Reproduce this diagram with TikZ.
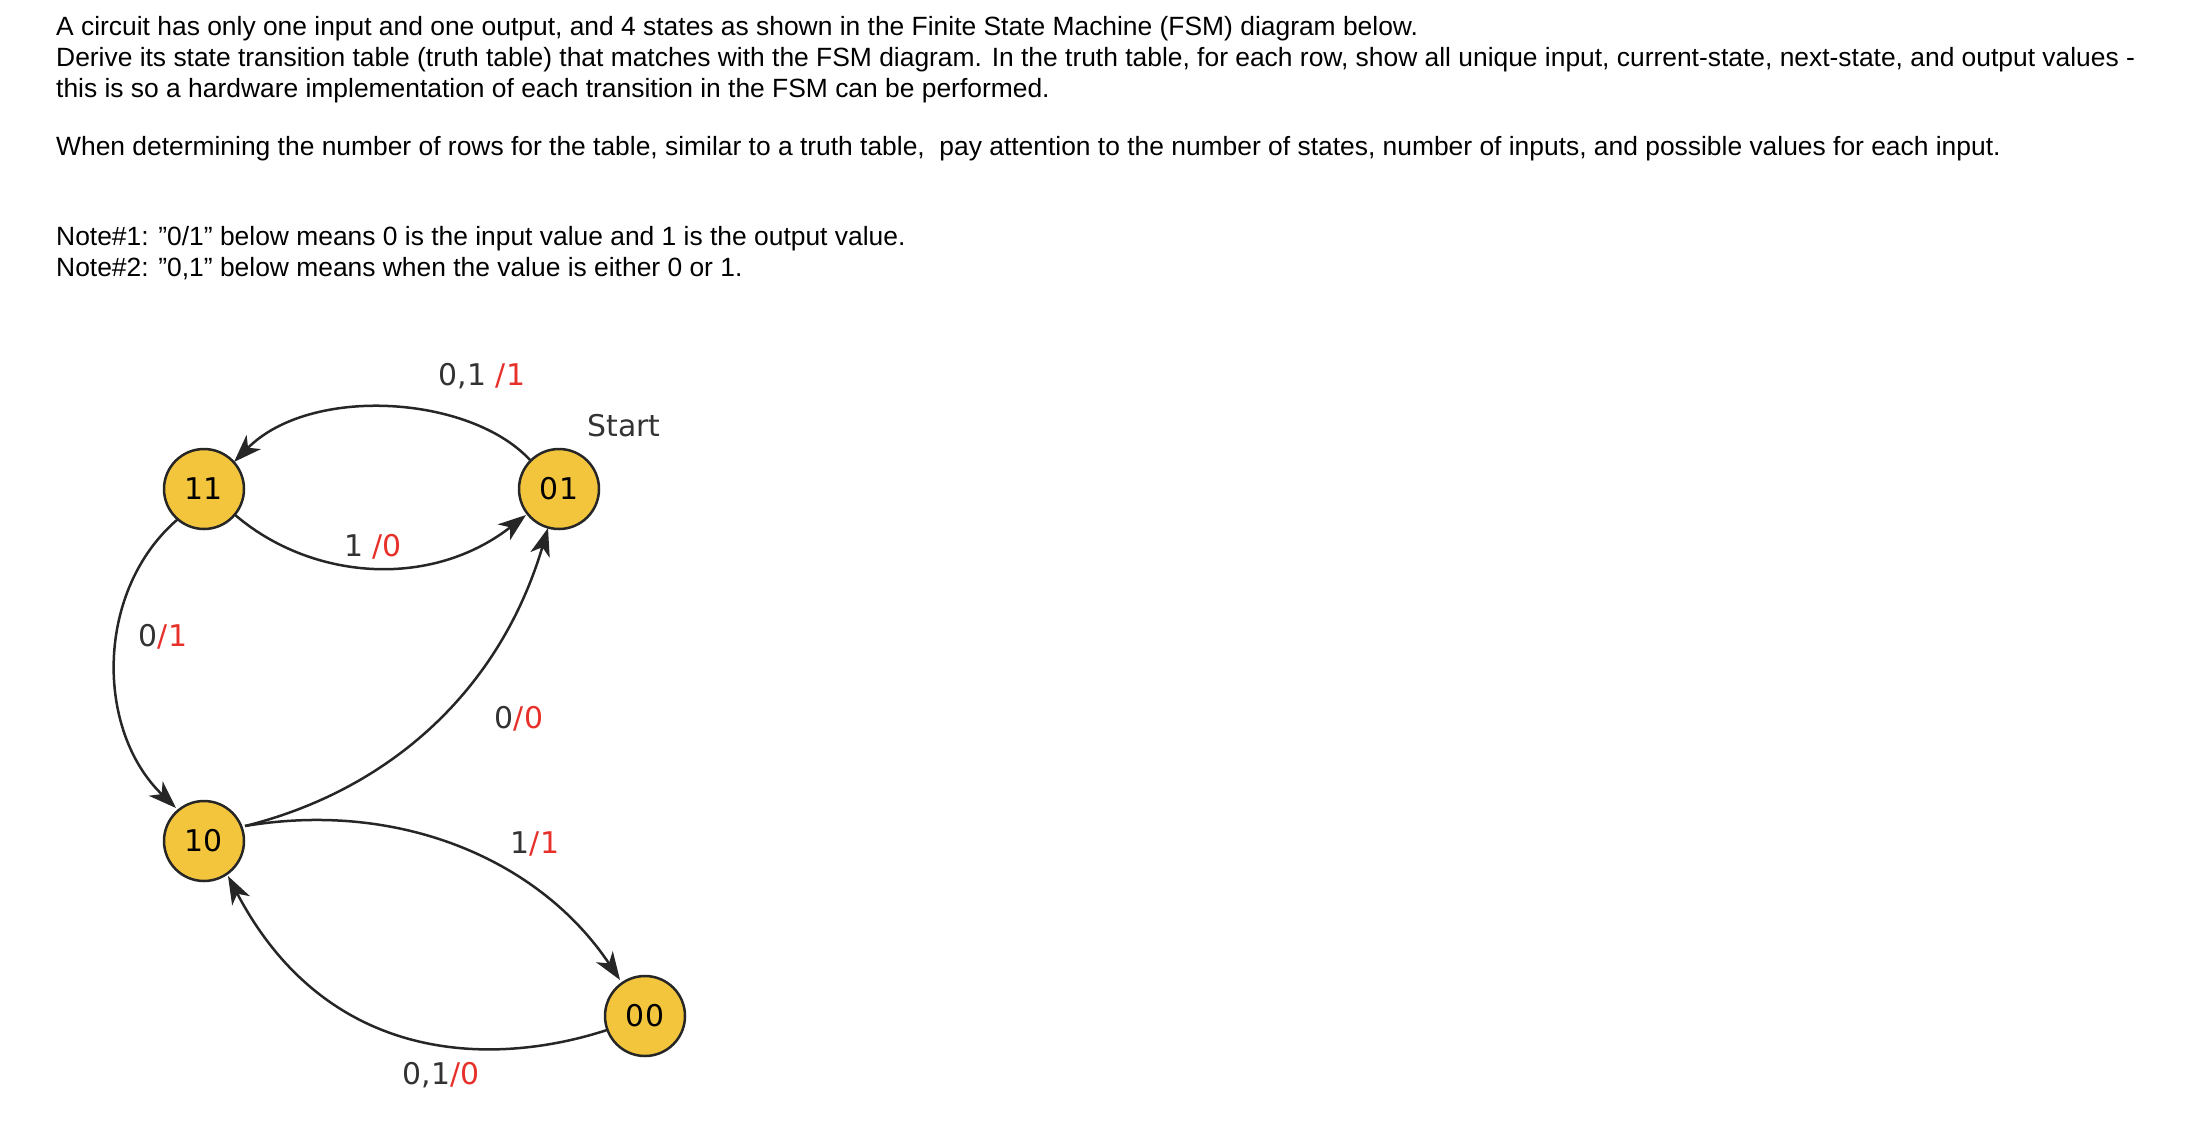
\documentclass[tikz,border=0pt]{standalone}
\usepackage{fontspec}
\setmainfont{Liberation Sans}
\newfontfamily\lab{DejaVu Sans}
\usetikzlibrary{arrows.meta}
\definecolor{st}{HTML}{F2C53D}
\definecolor{rd}{HTML}{E8302A}
\newcommand{\qq}{\symbol{34}}
\begin{document}
\begin{tikzpicture}[x=1bp,y=-1bp,
  state/.style={circle,draw=black!85,line width=2.5bp,fill=st,minimum size=80bp,inner sep=0,font=\lab\fontsize{30}{34}\selectfont},
  edge/.style={line width=2.5bp,draw=black!85,-{Stealth[length=28bp,width=20bp,inset=8bp]}},
  lbl/.style={font=\lab\fontsize{30}{34}\selectfont,text=black!80,inner sep=0},
  para/.style={anchor=north west,align=left,inner sep=0,font=\fontsize{26.5}{31}\selectfont}]
\useasboundingbox (0,0) rectangle (2198,1142);
\node[para] (p1) at (56,16) {A circuit has only one input and one output, and 4 states as shown in the Finite State Machine (FSM) diagram below.\\
Derive its state transition table (truth table) that matches with the FSM diagram. In the truth table, for each row, show all unique input, current-state, next-state, and output values -\\
this is so a hardware implementation of each transition in the FSM can be performed.};
\node[para] (p2) at (56,136) {When determining the number of rows for the table, similar to a truth table,\ \ pay attention to the number of states, number of inputs, and possible values for each input.};
\node[para] (p3) at (56,226) {Note\#1: \qq0/1\qq\ below means 0 is the input value and 1 is the output value.\\
Note\#2: \qq0,1\qq\ below means when the value is either 0 or 1.};
\node[state] (s11) at (204,489) {11};
\node[state] (s01) at (559,489) {01};
\node[state] (s10) at (204,841) {10};
\node[state] (s00) at (645,1016) {00};
\coordinate (a1) at (530,460); \coordinate (b1) at (234,462);
\draw[edge] (a1) .. controls (470,395) and (310,385) .. (b1);
\coordinate (a2) at (234,514); \coordinate (b2) at (526,515);
\draw[edge] (a2) .. controls (310,580) and (430,590) .. (b2);
\coordinate (a3) at (178,519); \coordinate (b3) at (176,808);
\draw[edge] (a3) .. controls (95,590) and (95,730) .. (b3);
\coordinate (a4) at (245,826); \coordinate (b4) at (548,528);
\draw[edge] (a4) .. controls (390,790) and (500,690) .. (b4);
\coordinate (a5) at (245,826); \coordinate (b5) at (620,980);
\draw[edge] (a5) .. controls (400,800) and (540,860) .. (b5);
\coordinate (a6) at (607,1030); \coordinate (b6) at (228,876);
\draw[edge] (a6) .. controls (500,1065) and (330,1070) .. (b6);
\node[lbl] (l1) at (482,376) {0,1 \textcolor{rd}{/1}};
\node[lbl] (l2) at (624,426) {Start};
\node[lbl] (l3) at (373,547) {1 \textcolor{rd}{/0}};
\node[lbl] (l4) at (163,637) {0\textcolor{rd}{/1}};
\node[lbl] (l5) at (519,719) {0\textcolor{rd}{/0}};
\node[lbl] (l6) at (535,844) {1\textcolor{rd}{/1}};
\node[lbl] (l7) at (441,1075) {0,1\textcolor{rd}{/0}};
\end{tikzpicture}
\end{document}
